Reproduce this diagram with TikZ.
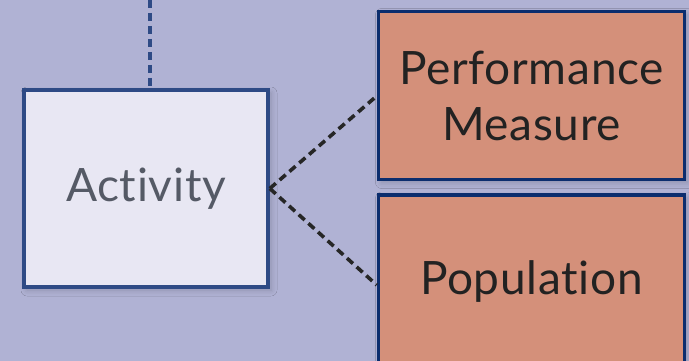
\documentclass[tikz,border=0pt]{standalone}
\usepackage{fontspec}
\setmainfont{Lato}[LetterSpace=1.5, Ligatures=NoCommon]
\usetikzlibrary{shadows.blur}
\definecolor{bgc}{HTML}{B0B2D4}
\definecolor{actfill}{HTML}{E8E7F3}
\definecolor{actline}{HTML}{2E4A85}
\definecolor{actText}{HTML}{555A66}
\definecolor{boxfill}{HTML}{D4907A}
\definecolor{boxline}{HTML}{0B2D6E}
\definecolor{txt}{HTML}{222222}
\tikzset{
  actbox/.style={draw=actline, line width=3.6pt, fill=actfill, minimum width=244pt, minimum height=197pt, inner sep=0pt, font=\fontsize{46}{56}\selectfont, text=actText, blur shadow={shadow xshift=3pt, shadow yshift=-3pt, shadow blur radius=6pt, shadow opacity=20}},
  redbox/.style={draw=boxline, line width=3.6pt, fill=boxfill, inner sep=0pt, font=\fontsize{46}{56}\selectfont, text=txt, align=center, blur shadow={shadow xshift=3pt, shadow yshift=-3pt, shadow blur radius=6pt, shadow opacity=20}},
  lbl/.style={font=\fontsize{46}{56}\selectfont, text=txt},
  bluedash/.style={draw=actline, line width=3.4pt, dash pattern=on 8pt off 5pt},
  blackdash/.style={draw=black!85, line width=3.6pt, dash pattern=on 8pt off 5pt},
}
\begin{document}
\begin{tikzpicture}[x=1pt,y=-1pt]
\fill[bgc] (0,0) rectangle (689,361);
\useasboundingbox (0,0) rectangle (689,361);
\coordinate (top) at (150,0);
\node[actbox] (act) at (146,188.5) {Activity};
\node[redbox, minimum width=306pt, minimum height=168pt] (perf) at (531.5,95.5) {Performance\\Measure};
\node[redbox, minimum width=306pt, minimum height=200pt] (pop) at (531.5,295) {};
\node[lbl] (poplbl) at (531.5,282) {Population};
\draw[bluedash] (top) -- (top |- act.north);
\draw[blackdash] (act.east) -- (perf.west |- 0,96);
\draw[blackdash] (act.east) -- (pop.west |- 0,285);
\end{tikzpicture}
\end{document}
